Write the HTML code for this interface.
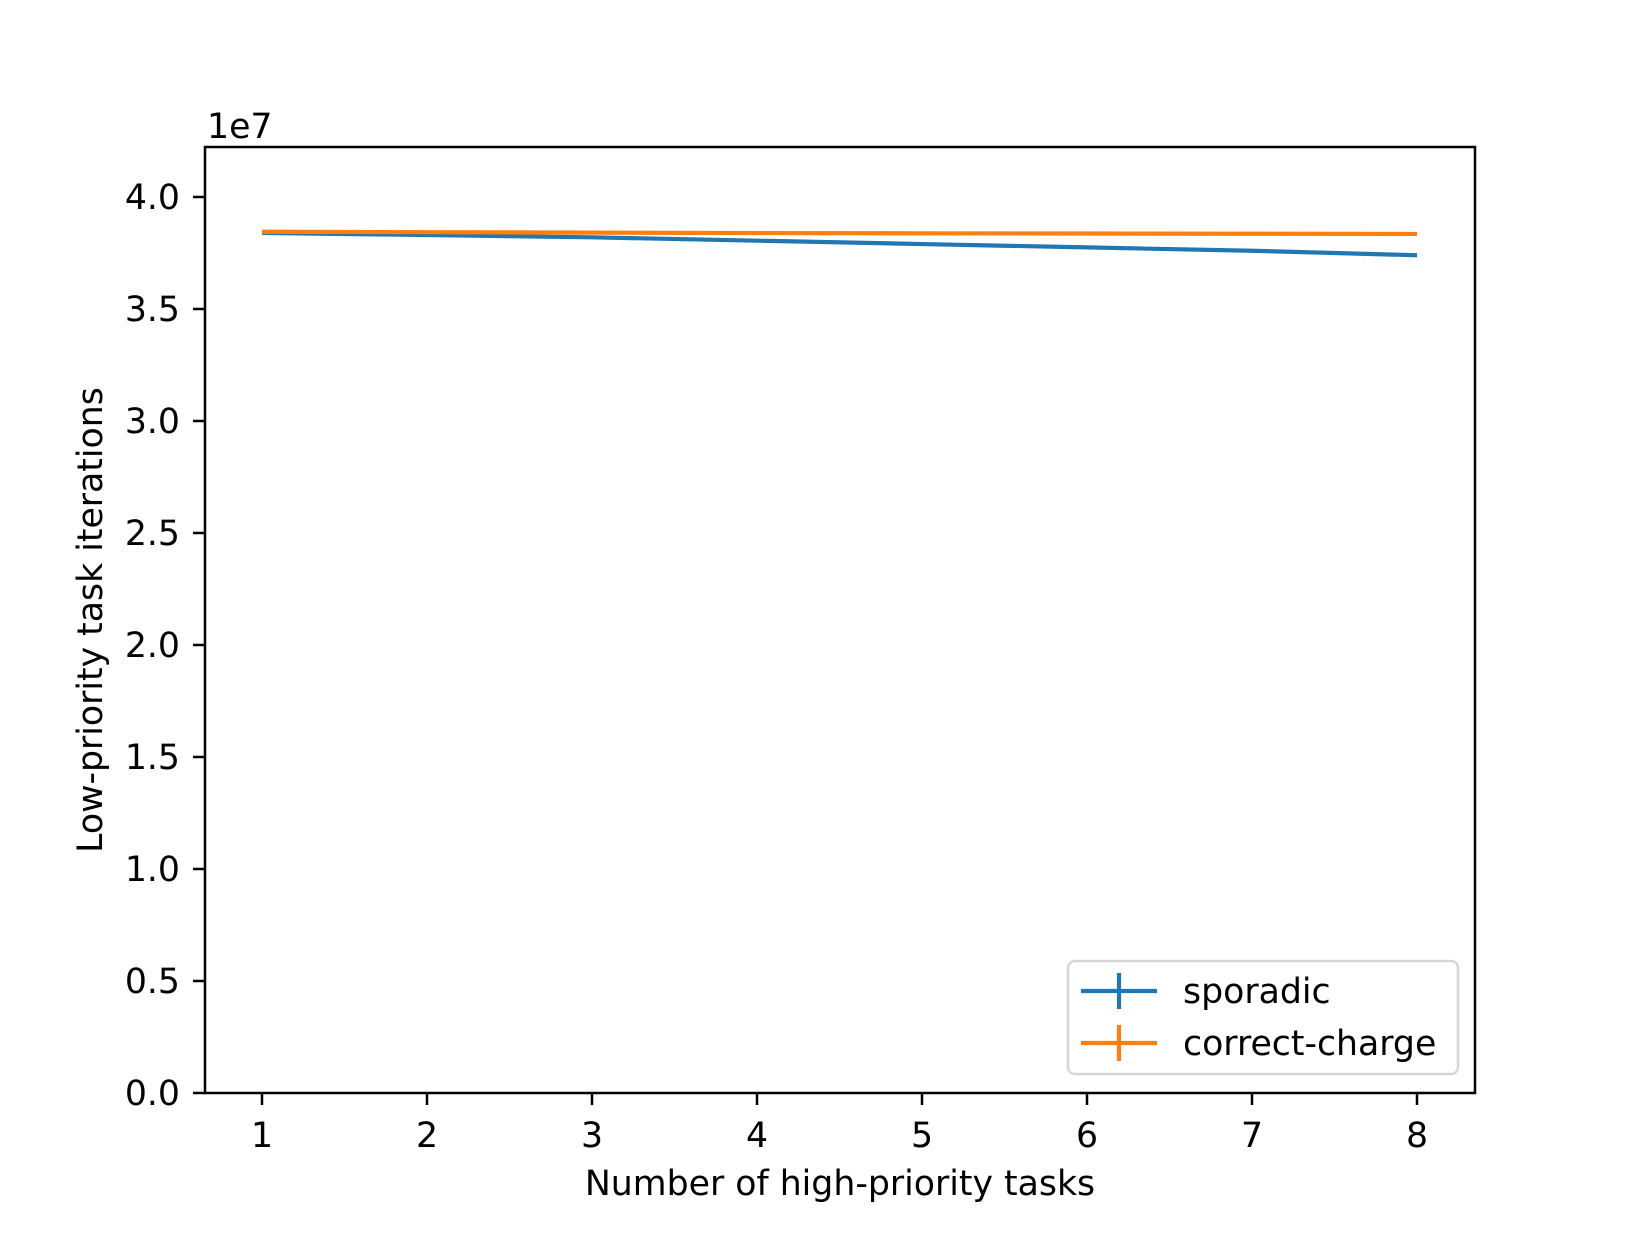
<!DOCTYPE html>
<html><head><meta charset="utf-8"><style>
body{margin:0;background:#fff}
svg text{font-family:"DejaVu Sans","Liberation Sans",sans-serif;fill:#000}
</style></head><body>
<svg id="c" width="1638" height="1228" viewBox="0 0 1638 1228" xmlns="http://www.w3.org/2000/svg">
<rect width="1638" height="1228" fill="#fff"/>
<g id="plot"></g>
</svg>
<script>
const xCats=[1,2,3,4,5,6,7,8];
const sporadic=[3.84,3.83,3.82,3.805,3.79,3.775,3.76,3.74];
const correctCharge=[3.845,3.843,3.841,3.839,3.838,3.837,3.836,3.835];
const yTicks=[0,0.5,1.0,1.5,2.0,2.5,3.0,3.5,4.0];
const yTickLabels=["0.0","0.5","1.0","1.5","2.0","2.5","3.0","3.5","4.0"];
const L=205,R=1475,T=147,B=1093;
const xs=v=>262+(v-1)*165;
const ys=v=>1093-v*224;
const g=document.getElementById('plot');
const NS='http://www.w3.org/2000/svg';
function mk(t,a,txt){const e=document.createElementNS(NS,t);for(const k in a)e.setAttribute(k,a[k]);if(txt!=null)e.textContent=txt;g.appendChild(e);return e;}
xCats.forEach(v=>{
 const t=mk('line',{x1:xs(v),x2:xs(v),y1:B,y2:B+12,stroke:'#000','stroke-width':2.5});
 
 
 const l=mk('text',{x:xs(v),y:1147,'text-anchor':'middle','font-size':34.7},String(v));
 
 
});
yTicks.forEach((v,i)=>{
 const t=mk('line',{x1:L-12,x2:L,y1:ys(v),y2:ys(v),stroke:'#000','stroke-width':2.5});
 
 
 const l=mk('text',{x:180,y:ys(v)+12,'text-anchor':'end','font-size':34.7},yTickLabels[i]);
 
 
});
function series(d,color,name){
 const p=mk('polyline',{points:d.map((v,i)=>xs(xCats[i])+','+ys(v)).join(' '),fill:'none',stroke:color,'stroke-width':4.2});
 
 
}
series(sporadic,'#1f77b4','sporadic-line');
series(correctCharge,'#ff7f0e','correct-charge-line');
const fr=mk('rect',{x:L,y:T,width:R-L,height:B-T,fill:'none',stroke:'#000','stroke-width':2.5});


const off=mk('text',{x:207,y:138,'font-size':34.7},'1e7');


const xt=mk('text',{x:840,y:1195,'text-anchor':'middle','font-size':34.7},'Number of high-priority tasks');


const yt=mk('text',{x:0,y:0,'text-anchor':'middle','font-size':34.7,transform:'translate(102,620) rotate(-90)'},'Low-priority task iterations');


const lb=mk('rect',{x:1068,y:961,width:390,height:113,rx:7,fill:'#fff','fill-opacity':0.8,stroke:'#d6d6d6','stroke-width':2.5});


[['sporadic','#1f77b4',991],['correct-charge','#ff7f0e',1043]].forEach(([n,c,y])=>{
 const h=mk('line',{x1:1081,x2:1157,y1:y,y2:y,stroke:c,'stroke-width':4.2});
 
 
 const v=mk('line',{x1:1119,x2:1119,y1:y-18,y2:y+18,stroke:c,'stroke-width':4.2});
 
 
 const t=mk('text',{x:1183,y:y+12,'font-size':34.7},n);
 
 
});
</script>
</body></html>
